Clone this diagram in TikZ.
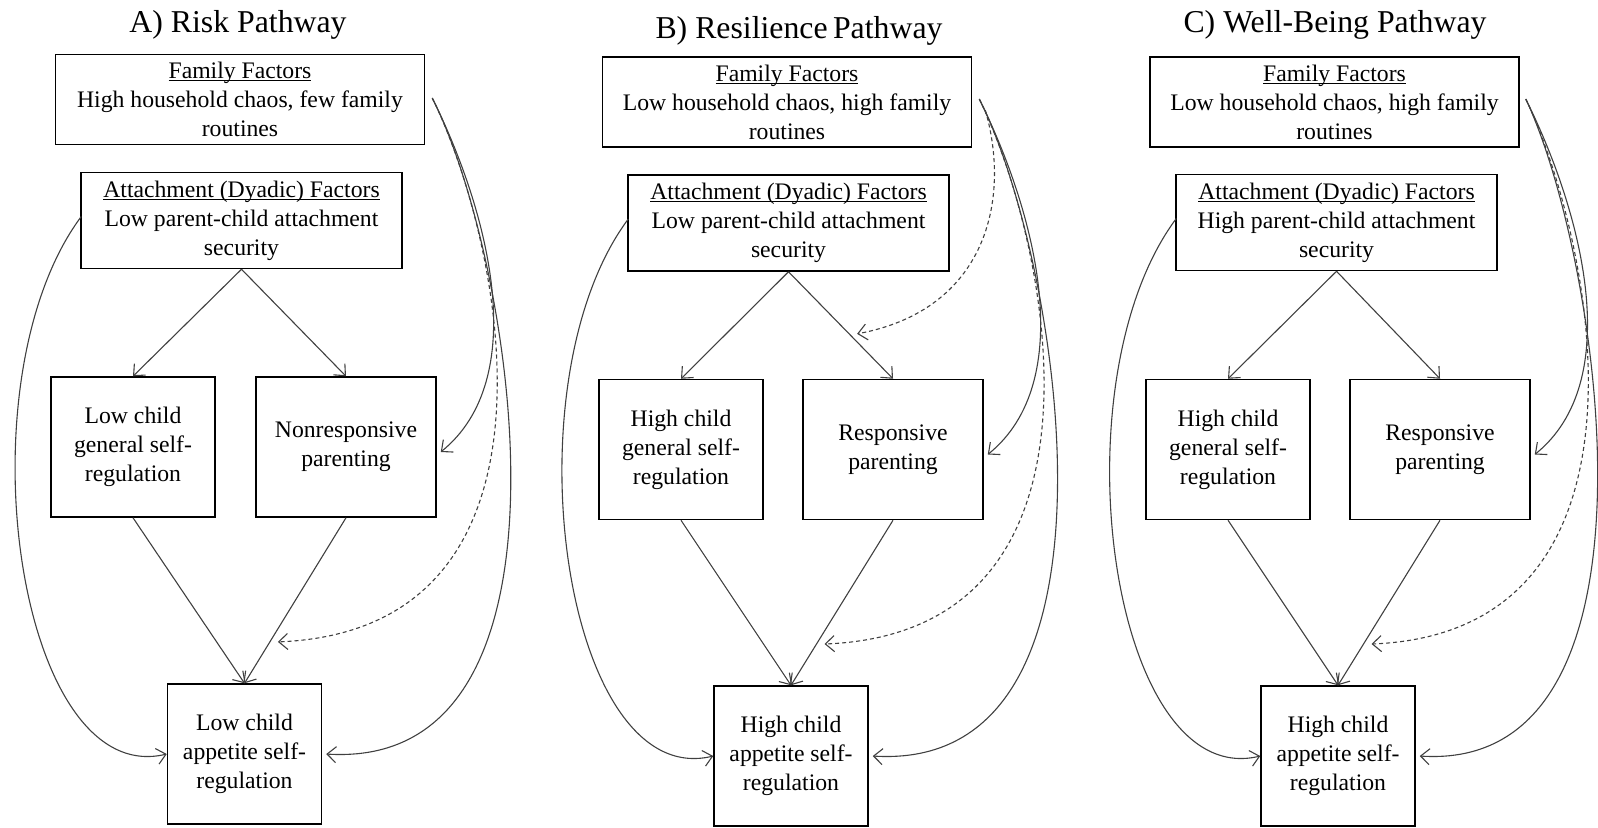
\documentclass[tikz,border=0pt]{standalone}
\usepackage{fontspec}
\setmainfont{Liberation Serif}
\usetikzlibrary{arrows.meta,calc}

\newcommand\bodyfont{\fontsize{11.85}{14.5}\selectfont}
\newcommand\headfont{\fontsize{15.9}{19}\selectfont}
% underline that sits just under the baseline and runs through descenders
\newcommand\hd[1]{\setbox0\hbox{#1}\rlap{\rule[-1.3pt]{\wd0}{0.5pt}}\box0}
\definecolor{linkgray}{gray}{0.25}

\tikzset{
  box/.style={draw, line width=0.75pt, inner sep=0pt, align=center, font=\bodyfont,
    execute at begin node={\rule{0pt}{11.8pt}}},
  famsz/.style={box, minimum width=184.5pt, minimum height=45pt},
  attsz/.style={box, minimum width=160.5pt, minimum height=48pt},
  gensz/.style={box, minimum width=82pt, minimum height=70pt},
  parsz/.style={box, minimum width=90pt, minimum height=70pt},
  appsz/.style={box, minimum width=77pt, minimum height=70pt},
  heading/.style={font=\headfont, anchor=base, inner sep=0pt},
  link/.style={draw=linkgray, line width=0.55pt, -{Straight Barb[length=4.5pt,width=8pt]}},
  modlink/.style={link, dash pattern=on 2pt off 1.5pt},
}

\begin{document}
\begin{tikzpicture}[x=0.5pt, y=-0.5pt]
\useasboundingbox (0,0) rectangle (1598,827);

% ---------- A) Risk pathway ----------
\node[heading] (tA) at (238,32) {A) Risk Pathway};
\node[famsz] (famA) at (240,99.5) {\hd{Family Factors}\\High household chaos, few family\\routines};
\node[attsz] (attA) at (241.5,220.5) {\hd{Attachment (Dyadic) Factors}\\Low parent-child attachment\\security};
\node[gensz] (genA) at (133,447) {Low child\\general self-\\regulation};
\node[parsz] (parA) at (346,447) {Nonresponsive\\parenting};
\node[appsz] (appA) at (244.5,754) {Low child\\appetite self-\\regulation};

\draw[link] (attA.south) -- (genA.north);
\draw[link] (attA.south) -- (parA.north);
\draw[link] (genA.south) -- (appA.north);
\draw[link] (parA.south) -- (appA.north);

\coordinate (fA) at ($(famA.east)+(7,-1.5)$);
\coordinate (aA) at ($(attA.west)+(1,-4)$);
\draw[link] (fA) .. controls +(58,117) and +(90,-73) .. ($(parA.east)+(4,5)$);
\draw[modlink] (fA) .. controls +(70,142) and +(305,-12) .. ($(parA.south)!0.75!(appA.north)+(8,0)$);
\draw[link] (fA) .. controls +(80,157) and +(270,17) .. ($(appA.east)+(4,0)$);
\draw[link] (aA) .. controls +(-122,164) and +(-150,36) .. (appA.west);

% ---------- B) Resilience pathway ----------
\node[heading] (tB) at (799,38) {B) Resilience\,Pathway};
\node[famsz] (famB) at (787,102) {\hd{Family Factors}\\Low household chaos, high family\\routines};
\node[attsz] (attB) at (788.5,223) {\hd{Attachment (Dyadic) Factors}\\Low parent-child attachment\\security};
\node[gensz] (genB) at (681,449.5) {High child\\general self-\\regulation};
\node[parsz] (parB) at (893,449.5) {Responsive\\parenting};
\node[appsz] (appB) at (791,756) {High child\\appetite self-\\regulation};

\draw[link] (attB.south) -- (genB.north);
\draw[link] (attB.south) -- (parB.north);
\draw[link] (genB.south) -- (appB.north);
\draw[link] (parB.south) -- (appB.north);

\coordinate (fB) at ($(famB.east)+(7,-3)$);
\coordinate (gB) at ($(famB.east)+(13,8)$);
\coordinate (aB) at ($(attB.west)+(1,-4)$);
\draw[link] (fB) .. controls +(58,117) and +(90,-73) .. ($(parB.east)+(4,5)$);
\draw[modlink] (gB) .. controls +(26,90) and +(129,-24) .. ($(attB.south)!0.58!(parB.north)+(8,0)$);
\draw[modlink] (fB) .. controls +(70,142) and +(305,-12) .. ($(parB.south)!0.75!(appB.north)+(8,0)$);
\draw[link] (fB) .. controls +(80,157) and +(270,17) .. ($(appB.east)+(4,0)$);
\draw[link] (aB) .. controls +(-122,164) and +(-150,36) .. (appB.west);

% ---------- C) Well-being pathway ----------
\node[heading] (tC) at (1335,32) {C) Well-Being Pathway};
\node[famsz] (famC) at (1334.5,102) {\hd{Family Factors}\\Low household chaos, high family\\routines};
\node[attsz] (attC) at (1336.5,222.5) {\hd{Attachment (Dyadic) Factors}\\High parent-child attachment\\security};
\node[gensz] (genC) at (1228,449.5) {High child\\general self-\\regulation};
\node[parsz] (parC) at (1440,449.5) {Responsive\\parenting};
\node[appsz] (appC) at (1338,756) {High child\\appetite self-\\regulation};

\draw[link] (attC.south) -- (genC.north);
\draw[link] (attC.south) -- (parC.north);
\draw[link] (genC.south) -- (appC.north);
\draw[link] (parC.south) -- (appC.north);

\coordinate (fC) at ($(famC.east)+(6,-3)$);
\coordinate (aC) at ($(attC.west)+(1,-4)$);
\draw[link] (fC) .. controls +(58,117) and +(90,-73) .. ($(parC.east)+(4,5)$);
\draw[modlink] (fC) .. controls +(68,142) and +(300,-12) .. ($(parC.south)!0.75!(appC.north)+(8,0)$);
\draw[link] (fC) .. controls +(74,157) and +(258,17) .. ($(appC.east)+(4,0)$);
\draw[link] (aC) .. controls +(-122,164) and +(-150,36) .. (appC.west);
\end{tikzpicture}
\end{document}
